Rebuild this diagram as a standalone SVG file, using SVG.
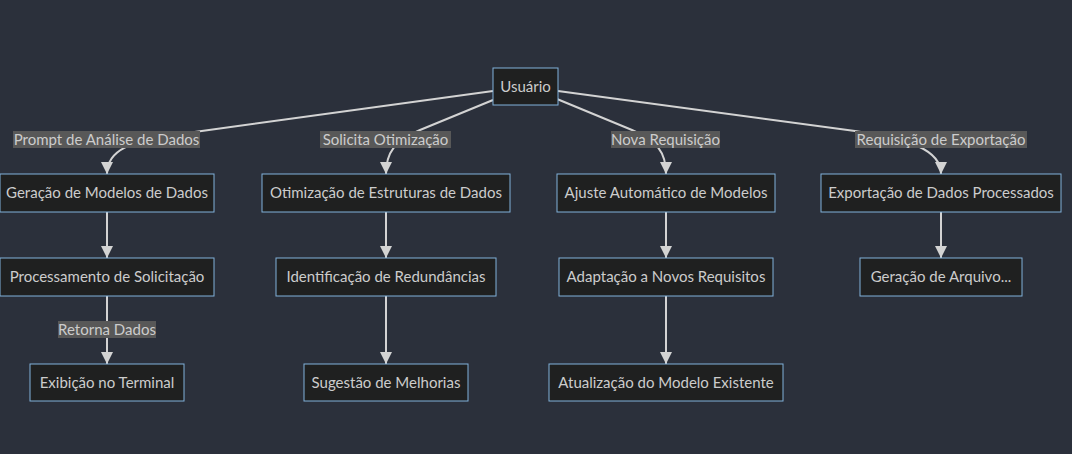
<svg xmlns="http://www.w3.org/2000/svg" width="1072" height="454" viewBox="0 0 1072 454">
<defs>
<style>
.bg{fill:#2b303b}
.node rect{fill:#1f2020;stroke:#81b1db;stroke-width:1}
.node text{fill:#cccccc;font-family:Lato,"Liberation Sans",sans-serif;font-size:15px;text-anchor:middle;dominant-baseline:central}
.edges path{fill:none;stroke:#d3d3d3;stroke-width:2;marker-end:url(#arrow)}
.elabel rect{fill:#585858}
.elabel text{fill:#cccccc;font-family:Lato,"Liberation Sans",sans-serif;font-size:15px;text-anchor:middle;dominant-baseline:central}
</style>
<marker id="arrow" viewBox="0 0 10 10" refX="10" refY="5" markerUnits="userSpaceOnUse" markerWidth="12" markerHeight="12" orient="auto">
<path d="M0,0 L10,5 L0,10 z" fill="#d3d3d3"/>
</marker>
</defs>
<rect class="bg" x="0" y="0" width="1072" height="454"/>
<g class="edges">
<path d="M493,91 L180,134 C130,141 107,150 107,174"/>
<path d="M493,100 L420,130 C395,141 386,152 386,174"/>
<path d="M557,99 L632,130 C657,141 666,152 666,174"/>
<path d="M558,91 L855,131 C910,139 941,150 941,174"/>
<path d="M107,212 L107,258"/>
<path d="M386,212 L386,258"/>
<path d="M666,212 L666,258"/>
<path d="M941,212 L941,258"/>
<path d="M107,296 L107,364"/>
<path d="M386,296 L386,364"/>
<path d="M666,296 L666,364"/>
</g>
<g class="elabel" id="l1"><rect x="13" y="131" width="187" height="17"/><text x="106.5" y="139">Prompt de Análise de Dados</text></g>
<g class="elabel" id="l2"><rect x="320" y="131" width="131" height="17"/><text x="385.5" y="139">Solicita Otimização</text></g>
<g class="elabel" id="l3"><rect x="611" y="131" width="109" height="17"/><text x="665.5" y="139">Nova Requisição</text></g>
<g class="elabel" id="l4"><rect x="855" y="131" width="172" height="17"/><text x="941" y="139">Requisição de Exportação</text></g>
<g class="elabel" id="l5"><rect x="58" y="321" width="98" height="17"/><text x="107" y="329">Retorna Dados</text></g>
<g class="node" id="usuario"><rect x="493" y="68" width="65" height="37"/><text x="525.5" y="86">Usuário</text></g>
<g class="node" id="geracao"><rect x="0" y="174" width="214" height="38"/><text x="107" y="192">Geração de Modelos de Dados</text></g>
<g class="node" id="otimizacao"><rect x="262" y="174" width="248" height="38"/><text x="386" y="192">Otimização de Estruturas de Dados</text></g>
<g class="node" id="ajuste"><rect x="557" y="174" width="218" height="38"/><text x="666" y="192">Ajuste Automático de Modelos</text></g>
<g class="node" id="exportacao"><rect x="821" y="174" width="240" height="38"/><text x="941" y="192">Exportação de Dados Processados</text></g>
<g class="node" id="processamento"><rect x="0" y="258" width="214" height="38"/><text x="107" y="276">Processamento de Solicitação</text></g>
<g class="node" id="identificacao"><rect x="276" y="258" width="220" height="38"/><text x="386" y="276">Identificação de Redundâncias</text></g>
<g class="node" id="adaptacao"><rect x="559" y="258" width="214" height="38"/><text x="666" y="276">Adaptação a Novos Requisitos</text></g>
<g class="node" id="arquivo"><rect x="860" y="258" width="162" height="38"/><text x="941" y="276">Geração de Arquivo...</text></g>
<g class="node" id="exibicao"><rect x="30" y="364" width="154" height="37"/><text x="107" y="382">Exibição no Terminal</text></g>
<g class="node" id="sugestao"><rect x="304" y="364" width="164" height="37"/><text x="386" y="382">Sugestão de Melhorias</text></g>
<g class="node" id="atualizacao"><rect x="549" y="364" width="234" height="37"/><text x="666" y="382">Atualização do Modelo Existente</text></g>
</svg>
